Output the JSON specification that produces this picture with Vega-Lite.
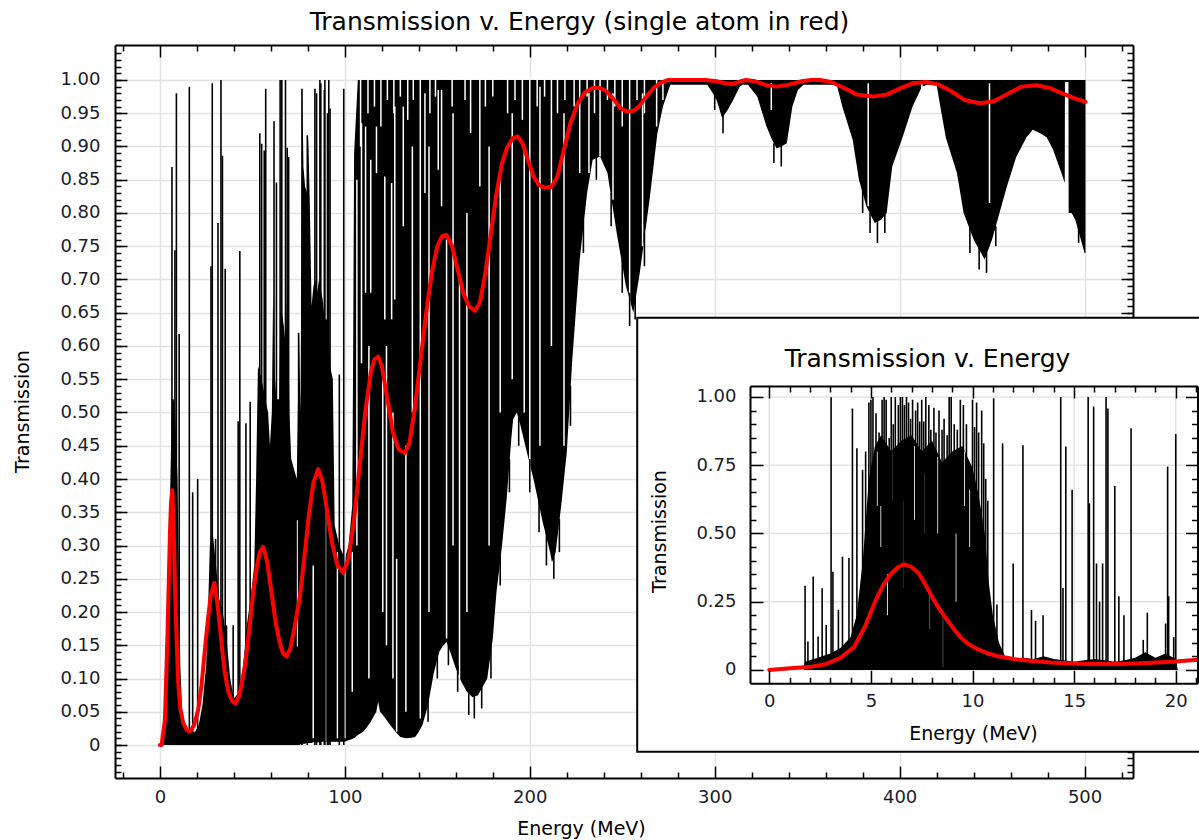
{
  "$schema": "https://vega.github.io/schema/vega-lite/v6.json",
  "width": 1018,
  "height": 733,
  "autosize": {"type": "none"},
  "padding": {"left": 115, "top": 45, "right": 66, "bottom": 62},
  "background": "white",
  "config": {
    "view": {"stroke": null},
    "axis": {
      "grid": false,
      "labelFont": "DejaVu Sans",
      "labelFontSize": 18,
      "labelColor": "#1c1c2a",
      "titleFont": "DejaVu Sans",
      "titleFontSize": 19,
      "titleFontWeight": "normal",
      "titleColor": "#000000",
      "tickColor": "#000000",
      "tickWidth": 1.5,
      "domainColor": "#000000",
      "domainWidth": 2,
      "gridColor": "#e3e3e3",
      "gridWidth": 1.5,
      "labelFlush": false,
      "labelOverlap": false,
      "labelBound": false
    }
  },
  "datasets": {
    "band": [
      {"E":0,"lo":0,"hi":0},{"E":1,"lo":0,"hi":0.01},{"E":2,"lo":0,"hi":0.03},{"E":3,"lo":0,"hi":0.07},
      {"E":4,"lo":0,"hi":0.15},{"E":5,"lo":0,"hi":0.3},{"E":6,"lo":0,"hi":0.45},{"E":6.5,"lo":0,"hi":0.52},
      {"E":7.5,"lo":0,"hi":0.52},{"E":8.5,"lo":0,"hi":0.48},{"E":9.5,"lo":0,"hi":0.4},{"E":10,"lo":0,"hi":0.3},
      {"E":11,"lo":0,"hi":0.12},{"E":12,"lo":0,"hi":0.05},{"E":13,"lo":0,"hi":0.03},{"E":16,"lo":0,"hi":0.02},
      {"E":19,"lo":0,"hi":0.02},{"E":21,"lo":0,"hi":0.03},{"E":23,"lo":0,"hi":0.06},{"E":25,"lo":0,"hi":0.12},
      {"E":26,"lo":0,"hi":0.2},{"E":27,"lo":0,"hi":0.3},{"E":28.5,"lo":0,"hi":0.32},{"E":30,"lo":0,"hi":0.28},
      {"E":32,"lo":0,"hi":0.22},{"E":34,"lo":0,"hi":0.2},{"E":36,"lo":0,"hi":0.16},{"E":38,"lo":0,"hi":0.1},
      {"E":40,"lo":0,"hi":0.07},{"E":43,"lo":0,"hi":0.08},{"E":45,"lo":0,"hi":0.12},{"E":47,"lo":0,"hi":0.18},
      {"E":49,"lo":0,"hi":0.22},{"E":51,"lo":0,"hi":0.27},{"E":52,"lo":0,"hi":0.4},{"E":53,"lo":0,"hi":0.57},
      {"E":55,"lo":0,"hi":0.55},{"E":57,"lo":0,"hi":0.52},{"E":58.5,"lo":0,"hi":0.5},{"E":59.5,"lo":0,"hi":0.45},
      {"E":60.5,"lo":0,"hi":0.5},{"E":61.2,"lo":0,"hi":0.68},{"E":62,"lo":0,"hi":0.56},{"E":63,"lo":0,"hi":0.52},
      {"E":64.5,"lo":0,"hi":0.52},{"E":65.2,"lo":0,"hi":0.65},{"E":66,"lo":0,"hi":0.65},{"E":67,"lo":0,"hi":0.63},
      {"E":68,"lo":0,"hi":0.6},{"E":69,"lo":0,"hi":0.7},{"E":70,"lo":0,"hi":0.5},{"E":71,"lo":0,"hi":0.43},
      {"E":72,"lo":0,"hi":0.42},{"E":74,"lo":0,"hi":0.4},{"E":75.2,"lo":0,"hi":0.62},{"E":76,"lo":0.001,"hi":0.5},
      {"E":77,"lo":0.001,"hi":0.99},{"E":77.6,"lo":0.002,"hi":0.87},{"E":78.5,"lo":0.002,"hi":0.84},{"E":79.5,"lo":0.003,"hi":0.83},
      {"E":80.2,"lo":0.003,"hi":0.915},{"E":81,"lo":0.003,"hi":0.82},{"E":82,"lo":0.003,"hi":0.66},{"E":83,"lo":0.004,"hi":0.69},
      {"E":84,"lo":0.004,"hi":0.7},{"E":85,"lo":0.004,"hi":0.68},{"E":86,"lo":0.004,"hi":0.7},{"E":88,"lo":0.005,"hi":0.67},
      {"E":89,"lo":0.005,"hi":0.64},{"E":91,"lo":0.005,"hi":0.64},{"E":92,"lo":0.005,"hi":0.57},{"E":93.5,"lo":0.005,"hi":0.55},
      {"E":94.5,"lo":0.005,"hi":0.33},{"E":97,"lo":0.005,"hi":0.3},{"E":100,"lo":0.005,"hi":0.28},{"E":102,"lo":0.007,"hi":0.3},{"E":104,"lo":0.009,"hi":0.36},{"E":104.5,"lo":0.01,"hi":0.6},
      {"E":105,"lo":0.01,"hi":0.89},{"E":107,"lo":0.015,"hi":1.0},{"E":110,"lo":0.02,"hi":1.0},{"E":112,"lo":0.027,"hi":1.0},
      {"E":114,"lo":0.035,"hi":1.0},{"E":116,"lo":0.045,"hi":1.0},{"E":117,"lo":0.05,"hi":1.0},{"E":118,"lo":0.065,"hi":1.0},
      {"E":119,"lo":0.05,"hi":1.0},{"E":120,"lo":0.047,"hi":1.0},{"E":122,"lo":0.04,"hi":1.0},{"E":124,"lo":0.032,"hi":1.0},
      {"E":126,"lo":0.025,"hi":1.0},{"E":128,"lo":0.018,"hi":1.0},{"E":130,"lo":0.012,"hi":1.0},{"E":133,"lo":0.01,"hi":1.0},
      {"E":136,"lo":0.011,"hi":1.0},{"E":138,"lo":0.012,"hi":1.0},{"E":140,"lo":0.02,"hi":1.0},{"E":142,"lo":0.03,"hi":1.0},
      {"E":145,"lo":0.06,"hi":1.0},{"E":148,"lo":0.107,"hi":1.0},{"E":151,"lo":0.14,"hi":1.0},{"E":153,"lo":0.149,"hi":1.0},
      {"E":155,"lo":0.155,"hi":1.0},{"E":157,"lo":0.14,"hi":1.0},{"E":160,"lo":0.115,"hi":1.0},{"E":163,"lo":0.095,"hi":1.0},
      {"E":166,"lo":0.08,"hi":1.0},{"E":169,"lo":0.072,"hi":1.0},{"E":172,"lo":0.075,"hi":1.0},{"E":175,"lo":0.09,"hi":1.0},
      {"E":177,"lo":0.1,"hi":1.0},{"E":180,"lo":0.16,"hi":1.0},{"E":182,"lo":0.23,"hi":1.0},{"E":185,"lo":0.3,"hi":1.0},
      {"E":187.5,"lo":0.37,"hi":1.0},{"E":190,"lo":0.46,"hi":1.0},{"E":191,"lo":0.49,"hi":1.0},{"E":193,"lo":0.5,"hi":1.0},
      {"E":195,"lo":0.48,"hi":1.0},{"E":198,"lo":0.445,"hi":1.0},{"E":202,"lo":0.4,"hi":1.0},{"E":207,"lo":0.335,"hi":1.0},
      {"E":211,"lo":0.29,"hi":1.0},{"E":212,"lo":0.275,"hi":1.0},{"E":214,"lo":0.29,"hi":1.0},{"E":217,"lo":0.36,"hi":1.0},
      {"E":220,"lo":0.44,"hi":1.0},{"E":223,"lo":0.58,"hi":1.0},{"E":227,"lo":0.73,"hi":1.0},{"E":231,"lo":0.83,"hi":1.0},
      {"E":234,"lo":0.88,"hi":1.0},{"E":238,"lo":0.885,"hi":1.0},{"E":242,"lo":0.86,"hi":1.0},{"E":247,"lo":0.77,"hi":1.0},
      {"E":252,"lo":0.69,"hi":1.0},{"E":256,"lo":0.65,"hi":1.0},{"E":259.5,"lo":0.71,"hi":1.0},{"E":265,"lo":0.825,"hi":1.0},
      {"E":269,"lo":0.92,"hi":1.0},{"E":272,"lo":0.96,"hi":1.0},{"E":276,"lo":0.993,"hi":1.0},{"E":296,"lo":0.993,"hi":1.0},
      {"E":299,"lo":0.98,"hi":1.0},{"E":301,"lo":0.97,"hi":1.0},{"E":304,"lo":0.943,"hi":1.0},{"E":307,"lo":0.955,"hi":1.0},
      {"E":310,"lo":0.97,"hi":1.0},{"E":313.5,"lo":0.99,"hi":1.0},{"E":315,"lo":0.993,"hi":1.0},{"E":318,"lo":0.993,"hi":1.0},
      {"E":323,"lo":0.975,"hi":1.0},{"E":328,"lo":0.93,"hi":1.0},{"E":331,"lo":0.91,"hi":1.0},{"E":333.5,"lo":0.897,"hi":1.0},
      {"E":336,"lo":0.9,"hi":1.0},{"E":339,"lo":0.905,"hi":1.0},{"E":342,"lo":0.96,"hi":1.0},{"E":345,"lo":0.985,"hi":1.0},
      {"E":348,"lo":0.993,"hi":1.0},{"E":366,"lo":0.993,"hi":1.0},{"E":369,"lo":0.96,"hi":1.0},{"E":374.6,"lo":0.91,"hi":1.0},
      {"E":378,"lo":0.85,"hi":1.0},{"E":382,"lo":0.81,"hi":1.0},{"E":386.5,"lo":0.785,"hi":1.0},{"E":390,"lo":0.79,"hi":1.0},
      {"E":393,"lo":0.8,"hi":1.0},{"E":396,"lo":0.87,"hi":1.0},{"E":401.6,"lo":0.914,"hi":1.0},{"E":407,"lo":0.96,"hi":1.0},
      {"E":412,"lo":0.99,"hi":1.0},{"E":415,"lo":0.993,"hi":1.0},{"E":420,"lo":0.993,"hi":1.0},{"E":422,"lo":0.96,"hi":1.0},
      {"E":425,"lo":0.913,"hi":1.0},{"E":431,"lo":0.86,"hi":1.0},{"E":434.6,"lo":0.8,"hi":1.0},{"E":440,"lo":0.76,"hi":1.0},
      {"E":446,"lo":0.73,"hi":1.0},{"E":450,"lo":0.76,"hi":1.0},{"E":454,"lo":0.8,"hi":1.0},{"E":458,"lo":0.84,"hi":1.0},
      {"E":463,"lo":0.884,"hi":1.0},{"E":468.6,"lo":0.914,"hi":1.0},{"E":472,"lo":0.925,"hi":1.0},{"E":476,"lo":0.92,"hi":1.0},
      {"E":479.5,"lo":0.914,"hi":1.0},{"E":483,"lo":0.895,"hi":1.0},{"E":487.5,"lo":0.86,"hi":1.0},{"E":489.3,"lo":0.845,"hi":1.0},
      {"E":489.4,"lo":0.997,"hi":1.0},{"E":491.3,"lo":0.997,"hi":1.0},{"E":491.4,"lo":0.8,"hi":1.0},{"E":493,"lo":0.8,"hi":1.0},
      {"E":495,"lo":0.79,"hi":1.0},{"E":497,"lo":0.77,"hi":1.0},{"E":499,"lo":0.75,"hi":1.0},{"E":500,"lo":0.74,"hi":1.0},
      {"E":500.5,"lo":0.74,"hi":1.0}
    ],
    "spikes": [
      {"E":6.5,"b":0,"t":0.869},{"E":8.1,"b":0,"t":0.744},{"E":8.9,"b":0,"t":0.98},{"E":10.4,"b":0,"t":0.618},
      {"E":15.9,"b":0,"t":0.99},{"E":17.7,"b":0,"t":0.38},{"E":20.4,"b":0,"t":0.4},{"E":27.6,"b":0,"t":0.72},
      {"E":28.3,"b":0,"t":0.995},{"E":30.1,"b":0,"t":0.31},{"E":31.4,"b":0,"t":0.785},{"E":33,"b":0,"t":1.0},
      {"E":33.8,"b":0,"t":0.886},{"E":35.3,"b":0,"t":0.716},{"E":36,"b":0,"t":0.18},{"E":39.6,"b":0,"t":0.18},
      {"E":42.3,"b":0,"t":0.487},{"E":43.2,"b":0,"t":0.743},{"E":46.5,"b":0,"t":0.484},{"E":48.8,"b":0,"t":0.516},
      {"E":54,"b":0,"t":0.92},{"E":55,"b":0,"t":0.904},{"E":56.4,"b":0,"t":0.894},{"E":57.2,"b":0,"t":0.987},
      {"E":61.7,"b":0,"t":0.938},{"E":63,"b":0,"t":0.846},{"E":65,"b":0,"t":1.0},{"E":65.9,"b":0,"t":1.0},
      {"E":67.9,"b":0,"t":1.0},{"E":68.8,"b":0,"t":0.898},{"E":69.6,"b":0,"t":0.884},{"E":73.3,"b":0,"t":0.342},
      {"E":75,"b":0,"t":0.62},{"E":76.8,"b":0,"t":0.987},{"E":79.7,"b":0,"t":0.917},{"E":83.8,"b":0,"t":0.987},
      {"E":84.7,"b":0,"t":0.98},{"E":86.5,"b":0,"t":1.0},{"E":87,"b":0,"t":0.995},{"E":88.9,"b":0,"t":0.985},
      {"E":89.2,"b":0,"t":1.0},{"E":90.6,"b":0,"t":0.95},{"E":91.3,"b":0,"t":1.0},{"E":92,"b":0,"t":0.957},
      {"E":97,"b":0,"t":0.557},{"E":99.4,"b":0,"t":0.987},
      {"E":145,"b":0.035,"t":0.07},{"E":150,"b":0.1,"t":0.14},{"E":156,"b":0.12,"t":0.16},{"E":161,"b":0.08,"t":0.12},
      {"E":167,"b":0.045,"t":0.09},{"E":170,"b":0.04,"t":0.08},{"E":174,"b":0.055,"t":0.095},{"E":179,"b":0.1,"t":0.15},
      {"E":184,"b":0.24,"t":0.29},{"E":189,"b":0.38,"t":0.43},{"E":194,"b":0.45,"t":0.5},{"E":200,"b":0.38,"t":0.43},
      {"E":205,"b":0.32,"t":0.37},{"E":209,"b":0.27,"t":0.32},{"E":213,"b":0.25,"t":0.29},{"E":216,"b":0.29,"t":0.34},
      {"E":222,"b":0.48,"t":0.54},{"E":229,"b":0.74,"t":0.79},{"E":236,"b":0.85,"t":0.89},{"E":244,"b":0.78,"t":0.83},
      {"E":250,"b":0.68,"t":0.73},{"E":254,"b":0.63,"t":0.68},{"E":257,"b":0.64,"t":0.68},{"E":262,"b":0.72,"t":0.77},
      {"E":300,"b":0.955,"t":0.98},{"E":304.5,"b":0.92,"t":0.95},{"E":332,"b":0.875,"t":0.905},{"E":336,"b":0.87,"t":0.905},
      {"E":380,"b":0.8,"t":0.84},{"E":384,"b":0.77,"t":0.8},{"E":388,"b":0.755,"t":0.79},{"E":392,"b":0.77,"t":0.8},
      {"E":438,"b":0.74,"t":0.78},{"E":443,"b":0.715,"t":0.75},{"E":447,"b":0.71,"t":0.74},{"E":452,"b":0.75,"t":0.78},
      {"E":496.8,"b":0.755,"t":0.78}
    ],
    "gaps": [
      {"E":74.4,"b":0.148,"t":0.338},{"E":82.9,"b":0.01,"t":0.27},{"E":89.6,"b":0.005,"t":0.35},{"E":96,"b":0.01,"t":0.29},
      {"E":100,"b":0.01,"t":0.29},{"E":104,"b":0.08,"t":0.29},{"E":109,"b":0.574,"t":0.935},{"E":111.2,"b":0.68,"t":0.93},
      {"E":114,"b":0.68,"t":0.88},{"E":117.1,"b":0.86,"t":0.93},{"E":121.6,"b":0.64,"t":0.855},{"E":122.5,"b":0.15,"t":0.6},
      {"E":125.3,"b":0.64,"t":0.845},{"E":127,"b":0.67,"t":0.96},{"E":128,"b":0.02,"t":0.28},{"E":131.6,"b":0.78,"t":0.96},
      {"E":140.8,"b":0.04,"t":1.005},{"E":143.3,"b":0.83,"t":0.98},{"E":150.5,"b":0.865,"t":0.985},{"E":152.3,"b":0.81,"t":0.985},
      {"E":155,"b":0.16,"t":0.76},{"E":162,"b":0.1,"t":0.7},{"E":173,"b":0.84,"t":1.005},{"E":184,"b":0.5,"t":0.85},
      {"E":200,"b":0.4,"t":1.005},{"E":211.7,"b":0.6,"t":1.005},{"E":227,"b":0.86,"t":1.005},{"E":238,"b":0.885,"t":1.005},
      {"E":254,"b":0.65,"t":1.005},{"E":268.6,"b":0.93,"t":1.005},{"E":330.6,"b":0.955,"t":0.995},{"E":383,"b":0.81,"t":0.995},
      {"E":412,"b":0.955,"t":0.995},{"E":448.6,"b":0.815,"t":0.995},
      {"E":106.5,"b":0.3,"t":0.85},{"E":113,"b":0.1,"t":0.6},{"E":120.5,"b":0.2,"t":0.55},{"E":126,"b":0.1,"t":0.5},
      {"E":133,"b":0.05,"t":0.45},{"E":136.5,"b":0.5,"t":0.9},{"E":145.5,"b":0.2,"t":0.9},{"E":158.5,"b":0.3,"t":0.95},
      {"E":166,"b":0.2,"t":0.8},{"E":178,"b":0.3,"t":0.9},{"E":190.5,"b":0.55,"t":0.95},{"E":197,"b":0.5,"t":0.9},
      {"E":205.5,"b":0.45,"t":0.99},{"E":218.5,"b":0.45,"t":0.95},{"E":232,"b":0.86,"t":0.98},{"E":245,"b":0.82,"t":0.98},
      {"E":261,"b":0.75,"t":0.98},
      {"E":108.5,"b":0.9,"t":1.005},{"E":112.5,"b":0.95,"t":1.005},{"E":116,"b":0.96,"t":1.005},{"E":119.5,"b":0.93,"t":1.005},
      {"E":123,"b":0.97,"t":1.005},{"E":126.5,"b":0.95,"t":1.005},{"E":130,"b":0.975,"t":1.005},{"E":134,"b":0.94,"t":1.005},
      {"E":137,"b":0.97,"t":1.005},{"E":146,"b":0.95,"t":1.005},{"E":149,"b":0.975,"t":1.005},{"E":158,"b":0.96,"t":1.005},
      {"E":165,"b":0.97,"t":1.005},{"E":168,"b":0.92,"t":1.005},{"E":176,"b":0.96,"t":1.005},{"E":180,"b":0.975,"t":1.005},
      {"E":188,"b":0.95,"t":1.005},{"E":192,"b":0.97,"t":1.005},{"E":196,"b":0.94,"t":1.005},{"E":204,"b":0.96,"t":1.005},
      {"E":208,"b":0.975,"t":1.005},{"E":215,"b":0.95,"t":1.005},{"E":219,"b":0.97,"t":1.005},{"E":224,"b":0.96,"t":1.005},
      {"E":231,"b":0.975,"t":1.005},{"E":235,"b":0.95,"t":1.005},{"E":242,"b":0.97,"t":1.005},{"E":246,"b":0.96,"t":1.005},
      {"E":250,"b":0.93,"t":1.005},{"E":258,"b":0.97,"t":1.005},{"E":262,"b":0.95,"t":1.005},{"E":272,"b":0.97,"t":1.005}
    ],
    "red": [
      {"E":0,"T":0},{"E":0.9,"T":0.0},{"E":2.7,"T":0.038},{"E":4.1,"T":0.168},{"E":5.4,"T":0.318},{"E":6,"T":0.365},
      {"E":6.7,"T":0.383},{"E":7.4,"T":0.33},{"E":8.1,"T":0.243},{"E":9,"T":0.16},{"E":9.9,"T":0.093},{"E":11,"T":0.055},
      {"E":12.6,"T":0.033},{"E":14.5,"T":0.023},{"E":16.2,"T":0.02},{"E":18.5,"T":0.03},{"E":20.7,"T":0.053},{"E":22.5,"T":0.09},
      {"E":24.3,"T":0.143},{"E":26,"T":0.19},{"E":27.5,"T":0.225},{"E":29.4,"T":0.244},{"E":31,"T":0.215},{"E":32.4,"T":0.178},
      {"E":33.8,"T":0.14},{"E":35.1,"T":0.108},{"E":37,"T":0.08},{"E":39,"T":0.066},{"E":40.9,"T":0.062},{"E":43,"T":0.075},
      {"E":45.9,"T":0.118},{"E":48,"T":0.165},{"E":50.4,"T":0.228},{"E":52.5,"T":0.27},{"E":54,"T":0.29},{"E":55.9,"T":0.298},
      {"E":58,"T":0.275},{"E":60.4,"T":0.228},{"E":62.5,"T":0.185},{"E":64.9,"T":0.153},{"E":66.5,"T":0.138},{"E":68.5,"T":0.133},
      {"E":70.5,"T":0.145},{"E":73,"T":0.18},{"E":75.7,"T":0.223},{"E":78,"T":0.28},{"E":80.5,"T":0.345},{"E":83,"T":0.395},
      {"E":85.6,"T":0.415},{"E":88,"T":0.395},{"E":90.5,"T":0.35},{"E":93,"T":0.305},{"E":96,"T":0.27},{"E":99.1,"T":0.259},
      {"E":102,"T":0.28},{"E":105,"T":0.34},{"E":108,"T":0.42},{"E":111,"T":0.5},{"E":114,"T":0.56},{"E":116,"T":0.58},
      {"E":118,"T":0.584},{"E":120,"T":0.57},{"E":123,"T":0.52},{"E":126,"T":0.47},{"E":129,"T":0.445},{"E":132.4,"T":0.439},
      {"E":135,"T":0.455},{"E":138,"T":0.51},{"E":141,"T":0.58},{"E":144,"T":0.65},{"E":147,"T":0.71},{"E":150,"T":0.75},
      {"E":152.5,"T":0.765},{"E":155,"T":0.767},{"E":158,"T":0.75},{"E":161,"T":0.715},{"E":164,"T":0.68},{"E":167,"T":0.66},
      {"E":170.3,"T":0.653},{"E":173,"T":0.665},{"E":176,"T":0.71},{"E":179,"T":0.77},{"E":182,"T":0.83},{"E":185,"T":0.875},
      {"E":188,"T":0.9},{"E":191,"T":0.913},{"E":193.5,"T":0.915},{"E":196,"T":0.905},{"E":199,"T":0.88},{"E":202,"T":0.855},
      {"E":205,"T":0.842},{"E":208,"T":0.838},{"E":211.7,"T":0.839},{"E":215,"T":0.855},{"E":218,"T":0.89},{"E":222,"T":0.935},
      {"E":226,"T":0.965},{"E":230,"T":0.982},{"E":234,"T":0.988},{"E":237.8,"T":0.988},{"E":241,"T":0.984},{"E":245,"T":0.972},
      {"E":249,"T":0.958},{"E":252,"T":0.953},{"E":255.7,"T":0.953},{"E":259,"T":0.96},{"E":263,"T":0.975},{"E":267,"T":0.988},
      {"E":271,"T":0.996},{"E":275,"T":1.0},{"E":285,"T":1.0},{"E":295,"T":1.0},{"E":301,"T":0.998},{"E":306,"T":0.995},
      {"E":310,"T":0.994},{"E":314,"T":0.998},{"E":317,"T":1.0},{"E":322,"T":0.998},{"E":328,"T":0.992},{"E":333.5,"T":0.99},
      {"E":340,"T":0.993},{"E":347,"T":0.998},{"E":352,"T":1.0},{"E":357,"T":1.0},{"E":363,"T":0.997},{"E":370,"T":0.988},
      {"E":377,"T":0.978},{"E":385.4,"T":0.975},{"E":393,"T":0.978},{"E":400,"T":0.987},{"E":407,"T":0.995},{"E":414.6,"T":0.997},
      {"E":421,"T":0.993},{"E":428,"T":0.983},{"E":435,"T":0.97},{"E":443,"T":0.965},{"E":451,"T":0.968},{"E":459,"T":0.98},
      {"E":466,"T":0.99},{"E":474,"T":0.992},{"E":481,"T":0.988},{"E":488,"T":0.98},{"E":494,"T":0.973},{"E":500.5,"T":0.967}
    ],
    "iband": [
      {"E":1.7,"hi":0},{"E":1.75,"hi":0.03},{"E":2.2,"hi":0.04},{"E":2.6,"hi":0.05},{"E":3,"hi":0.06},{"E":3.5,"hi":0.08},
      {"E":4,"hi":0.12},{"E":4.3,"hi":0.2},{"E":4.6,"hi":0.4},{"E":4.9,"hi":0.7},{"E":5.2,"hi":0.82},{"E":5.5,"hi":0.86},
      {"E":6,"hi":0.8},{"E":6.5,"hi":0.84},{"E":7,"hi":0.86},{"E":7.5,"hi":0.8},{"E":8,"hi":0.84},{"E":8.5,"hi":0.76},
      {"E":9,"hi":0.8},{"E":9.5,"hi":0.82},{"E":10,"hi":0.74},{"E":10.3,"hi":0.64},{"E":10.6,"hi":0.5},{"E":10.8,"hi":0.32},
      {"E":11,"hi":0.2},{"E":11.3,"hi":0.1},{"E":11.6,"hi":0.05},{"E":12,"hi":0.04},{"E":12.5,"hi":0.045},{"E":13,"hi":0.04},
      {"E":13.5,"hi":0.05},{"E":14,"hi":0.04},{"E":14.5,"hi":0.035},{"E":15,"hi":0.03},{"E":15.5,"hi":0.035},{"E":16,"hi":0.04},
      {"E":16.5,"hi":0.035},{"E":17,"hi":0.03},{"E":17.5,"hi":0.035},{"E":18,"hi":0.045},{"E":18.5,"hi":0.065},{"E":19,"hi":0.045},
      {"E":19.5,"hi":0.06},{"E":20,"hi":0.04},{"E":20.1,"hi":0}
    ],
    "ispikes": [
      {"E":1.76,"b":0,"t":0.308},{"E":1.9,"b":0,"t":0.104},{"E":2.16,"b":0,"t":0.342},{"E":2.4,"b":0,"t":0.122},
      {"E":2.6,"b":0,"t":0.299},{"E":2.8,"b":0,"t":0.165},{"E":3.04,"b":0,"t":0.999},{"E":3.13,"b":0,"t":0.36},
      {"E":3.4,"b":0,"t":0.22},{"E":3.6,"b":0,"t":0.415},{"E":3.92,"b":0,"t":0.41},{"E":4.09,"b":0,"t":0.958},
      {"E":4.31,"b":0,"t":0.812},{"E":4.59,"b":0,"t":0.733},{"E":4.74,"b":0,"t":0.8},{"E":4.9,"b":0,"t":0.98},
      {"E":5,"b":0,"t":0.99},{"E":5.1,"b":0,"t":1.0},{"E":5.25,"b":0,"t":0.94},{"E":5.4,"b":0,"t":0.87},
      {"E":5.55,"b":0,"t":0.99},{"E":5.65,"b":0,"t":1.0},{"E":5.75,"b":0,"t":0.99},{"E":5.9,"b":0,"t":0.85},
      {"E":6,"b":0,"t":1.0},{"E":6.1,"b":0,"t":0.9},{"E":6.2,"b":0,"t":1.0},{"E":6.35,"b":0,"t":0.97},
      {"E":6.45,"b":0,"t":1.0},{"E":6.55,"b":0,"t":1.0},{"E":6.65,"b":0,"t":0.97},{"E":6.75,"b":0,"t":1.0},
      {"E":6.85,"b":0,"t":0.98},{"E":6.95,"b":0,"t":0.92},{"E":7.05,"b":0,"t":0.99},{"E":7.2,"b":0,"t":0.95},
      {"E":7.3,"b":0,"t":0.98},{"E":7.4,"b":0,"t":0.91},{"E":7.5,"b":0,"t":0.99},{"E":7.6,"b":0,"t":0.91},
      {"E":7.7,"b":0,"t":1.0},{"E":7.85,"b":0,"t":0.97},{"E":7.95,"b":0,"t":0.88},{"E":8.1,"b":0,"t":0.96},
      {"E":8.2,"b":0,"t":0.87},{"E":8.35,"b":0,"t":0.95},{"E":8.5,"b":0,"t":0.88},{"E":8.6,"b":0,"t":0.92},
      {"E":8.75,"b":0,"t":0.86},{"E":8.85,"b":0,"t":1.0},{"E":8.95,"b":0,"t":1.0},{"E":9.1,"b":0,"t":0.9},
      {"E":9.25,"b":0,"t":0.88},{"E":9.4,"b":0,"t":0.99},{"E":9.55,"b":0,"t":0.97},{"E":9.7,"b":0,"t":0.9},
      {"E":9.8,"b":0,"t":0.76},{"E":10,"b":0,"t":0.99},{"E":10.1,"b":0,"t":0.89},{"E":10.2,"b":0,"t":0.98},
      {"E":10.3,"b":0,"t":0.87},{"E":10.45,"b":0,"t":0.95},{"E":10.55,"b":0,"t":0.83},{"E":10.65,"b":0,"t":0.7},
      {"E":10.75,"b":0,"t":0.62},{"E":11.04,"b":0,"t":0.995},{"E":11.2,"b":0,"t":0.24},{"E":11.48,"b":0,"t":0.83},
      {"E":12,"b":0,"t":0.39},{"E":12.48,"b":0,"t":0.823},{"E":12.9,"b":0,"t":0.22},{"E":13.1,"b":0,"t":0.18},
      {"E":13.47,"b":0,"t":0.2},{"E":14.34,"b":0,"t":1.0},{"E":14.45,"b":0,"t":0.3},{"E":14.59,"b":0,"t":0.818},
      {"E":14.9,"b":0,"t":0.66},{"E":15.69,"b":0,"t":1.0},{"E":15.75,"b":0,"t":0.61},{"E":15.96,"b":0,"t":0.965},
      {"E":16.1,"b":0,"t":0.39},{"E":16.25,"b":0,"t":0.25},{"E":16.4,"b":0,"t":0.39},{"E":16.57,"b":0,"t":1.0},
      {"E":16.66,"b":0,"t":0.958},{"E":17,"b":0,"t":0.674},{"E":17.2,"b":0,"t":0.27},{"E":17.45,"b":0,"t":0.2},
      {"E":17.8,"b":0,"t":0.885},{"E":18.4,"b":0,"t":0.11},{"E":18.6,"b":0,"t":0.21},{"E":19.5,"b":0,"t":0.17},
      {"E":19.6,"b":0,"t":0.745},{"E":19.65,"b":0,"t":0.27},{"E":19.9,"b":0,"t":0.12},{"E":20,"b":0,"t":0.864}
    ],
    "igaps": [
      {"E":5.5,"b":0.45,"t":0.6},{"E":5.8,"b":0.2,"t":0.35},{"E":6.1,"b":0.62,"t":0.8},{"E":6.56,"b":0.3,"t":0.62},
      {"E":7.6,"b":0.5,"t":0.72},{"E":7.9,"b":0.15,"t":0.3},{"E":8.54,"b":0.01,"t":0.21},{"E":9.2,"b":0.25,"t":0.5},
      {"E":9.85,"b":0.45,"t":0.66},{"E":5.3,"b":0.6,"t":0.8},{"E":7.15,"b":0.55,"t":0.82},{"E":8.3,"b":0.5,"t":0.78},{"E":9.6,"b":0.6,"t":0.8}
    ],
    "ired": [
      {"E":0,"T":0},{"E":1.02,"T":0.006},{"E":2.07,"T":0.012},{"E":2.8,"T":0.022},{"E":3.48,"T":0.043},{"E":4.18,"T":0.085},
      {"E":4.71,"T":0.159},{"E":5.24,"T":0.256},{"E":5.6,"T":0.31},{"E":5.94,"T":0.348},{"E":6.3,"T":0.375},{"E":6.64,"T":0.387},
      {"E":7,"T":0.377},{"E":7.35,"T":0.354},{"E":7.7,"T":0.31},{"E":8.05,"T":0.262},{"E":8.4,"T":0.22},{"E":8.75,"T":0.183},
      {"E":9.1,"T":0.148},{"E":9.45,"T":0.116},{"E":9.8,"T":0.095},{"E":10.16,"T":0.079},{"E":10.7,"T":0.062},{"E":11.2,"T":0.051},
      {"E":12.27,"T":0.037},{"E":13.85,"T":0.027},{"E":15.6,"T":0.022},{"E":17.4,"T":0.022},{"E":19.1,"T":0.027},{"E":20,"T":0.031},
      {"E":21.07,"T":0.037}
    ],
    "one": [{}]
  },
  "layer": [
    {
      "layer": [
        {
          "data": {"name": "band"},
          "mark": {"type": "area", "color": "#000000"},
          "encoding": {
            "x": {"field": "E", "type": "quantitative", "scale": {"domain": [-24.3, 526.2], "nice": false, "zero": false},
              "axis": {"orient": "bottom", "values": [0,100,200,300,400,500], "format": "d", "tickSize": -12, "grid": true,
                "labelPadding": 31, "labelBaseline": "middle", "title": "Energy (MeV)", "titleX": 466, "titleY": 50,
                "titleBaseline": "middle", "titleAlign": "center"}},
            "y": {"field": "lo", "type": "quantitative", "scale": {"domain": [-0.0496, 1.0526], "nice": false, "zero": false},
              "axis": {"orient": "left", "values": [0,0.05,0.1,0.15,0.2,0.25,0.3,0.35,0.4,0.45,0.5,0.55,0.6,0.65,0.7,0.75,0.8,0.85,0.9,0.95,1],
                "labelExpr": "datum.value == 0 ? '0' : format(datum.value, '.2f')", "tickSize": -12, "grid": true,
                "labelPadding": 27, "title": "Transmission", "titleX": -93, "titleY": 366, "titleAngle": 270,
                "titleBaseline": "middle", "titleAlign": "center"}},
            "y2": {"field": "hi"}
          }
        },
        {
          "data": {"name": "gaps"},
          "mark": {"type": "rule", "color": "#ffffff", "strokeWidth": 1.5},
          "encoding": {
            "x": {"field": "E", "type": "quantitative", "scale": {"domain": [-24.3, 526.2], "nice": false, "zero": false},
              "axis": {"orient": "bottom", "values": [-20,20,40,60,80,120,140,160,180,220,240,260,280,320,340,360,380,420,440,460,480,520],
                "tickSize": -6, "labels": false, "domain": false, "grid": false, "title": null}},
            "y": {"field": "b", "type": "quantitative", "scale": {"domain": [-0.0496, 1.0526], "nice": false, "zero": false},
              "axis": {"orient": "left", "values": [-0.04,-0.03,-0.02,-0.01,0,0.01,0.02,0.03,0.04,0.05,0.06,0.07,0.08,0.09,0.1,0.11,0.12,0.13,0.14,0.15,0.16,0.17,0.18,0.19,0.2,0.21,0.22,0.23,0.24,0.25,0.26,0.27,0.28,0.29,0.3,0.31,0.32,0.33,0.34,0.35,0.36,0.37,0.38,0.39,0.4,0.41,0.42,0.43,0.44,0.45,0.46,0.47,0.48,0.49,0.5,0.51,0.52,0.53,0.54,0.55,0.56,0.57,0.58,0.59,0.6,0.61,0.62,0.63,0.64,0.65,0.66,0.67,0.68,0.69,0.7,0.71,0.72,0.73,0.74,0.75,0.76,0.77,0.78,0.79,0.8,0.81,0.82,0.83,0.84,0.85,0.86,0.87,0.88,0.89,0.9,0.91,0.92,0.93,0.94,0.95,0.96,0.97,0.98,0.99,1,1.01,1.02,1.03,1.04],
                "tickSize": -6, "labels": false, "domain": false, "grid": false, "title": null}},
            "y2": {"field": "t"}
          }
        },
        {
          "data": {"name": "spikes"},
          "mark": {"type": "rule", "color": "#000000", "strokeWidth": 1.6},
          "encoding": {
            "x": {"field": "E", "type": "quantitative", "scale": {"domain": [-24.3, 526.2], "nice": false, "zero": false},
              "axis": {"orient": "top", "values": [0,100,200,300,400,500], "tickSize": -12, "labels": false, "grid": false,
                "title": "Transmission v. Energy (single atom in red)", "titleFontSize": 25, "titleX": 464, "titleY": -16,
                "titleBaseline": "alphabetic", "titleAlign": "center"}},
            "y": {"field": "b", "type": "quantitative", "scale": {"domain": [-0.0496, 1.0526], "nice": false, "zero": false},
              "axis": {"orient": "right", "values": [0,0.05,0.1,0.15,0.2,0.25,0.3,0.35,0.4,0.45,0.5,0.55,0.6,0.65,0.7,0.75,0.8,0.85,0.9,0.95,1],
                "tickSize": -12, "labels": false, "grid": false, "title": null}},
            "y2": {"field": "t"}
          }
        },
        {
          "data": {"name": "red"},
          "mark": {"type": "line", "color": "#ff0000", "strokeWidth": 4, "strokeJoin": "round", "strokeCap": "round"},
          "encoding": {
            "x": {"field": "E", "type": "quantitative", "scale": {"domain": [-24.3, 526.2], "nice": false, "zero": false},
              "axis": {"orient": "top", "values": [-20,20,40,60,80,120,140,160,180,220,240,260,280,320,340,360,380,420,440,460,480,520],
                "tickSize": -6, "labels": false, "domain": false, "grid": false, "title": null}},
            "y": {"field": "T", "type": "quantitative", "scale": {"domain": [-0.0496, 1.0526], "nice": false, "zero": false},
              "axis": {"orient": "right", "values": [-0.04,-0.03,-0.02,-0.01,0,0.01,0.02,0.03,0.04,0.05,0.06,0.07,0.08,0.09,0.1,0.11,0.12,0.13,0.14,0.15,0.16,0.17,0.18,0.19,0.2,0.21,0.22,0.23,0.24,0.25,0.26,0.27,0.28,0.29,0.3,0.31,0.32,0.33,0.34,0.35,0.36,0.37,0.38,0.39,0.4,0.41,0.42,0.43,0.44,0.45,0.46,0.47,0.48,0.49,0.5,0.51,0.52,0.53,0.54,0.55,0.56,0.57,0.58,0.59,0.6,0.61,0.62,0.63,0.64,0.65,0.66,0.67,0.68,0.69,0.7,0.71,0.72,0.73,0.74,0.75,0.76,0.77,0.78,0.79,0.8,0.81,0.82,0.83,0.84,0.85,0.86,0.87,0.88,0.89,0.9,0.91,0.92,0.93,0.94,0.95,0.96,0.97,0.98,0.99,1,1.01,1.02,1.03,1.04],
                "tickSize": -6, "labels": false, "domain": false, "grid": false, "title": null}}
          }
        }
      ],
      "resolve": {"axis": {"x": "independent", "y": "independent"}}
    },
    {
      "layer": [
        {
          "data": {"name": "one"},
          "mark": {"type": "rect", "fill": "#ffffff", "stroke": "#000000", "strokeWidth": 2},
          "encoding": {
            "x": {"datum": -6.5, "type": "quantitative", "scale": {"domain": [-0.95, 21.07], "range": [635, 1082.5], "nice": false, "zero": false}, "axis": null},
            "x2": {"datum": 21.6},
            "y": {"datum": 1.29, "type": "quantitative", "scale": {"domain": [-0.049, 1.04], "range": [638.3, 341], "nice": false, "zero": false}, "axis": null},
            "y2": {"datum": -0.3}
          }
        },
        {"data": {"name": "one"}, "mark": {"type": "rule", "color": "#e3e3e3", "strokeWidth": 1.5},
         "encoding": {"x": {"datum": 0, "type": "quantitative", "scale": {"domain": [-0.95, 21.07], "range": [635, 1082.5], "nice": false, "zero": false}, "axis": null},
           "y": {"datum": -0.049, "type": "quantitative", "scale": {"domain": [-0.049, 1.04], "range": [638.3, 341], "nice": false, "zero": false}, "axis": null}, "y2": {"datum": 1.04}}},
        {"data": {"name": "one"}, "mark": {"type": "rule", "color": "#e3e3e3", "strokeWidth": 1.5},
         "encoding": {"x": {"datum": 5, "type": "quantitative", "scale": {"domain": [-0.95, 21.07], "range": [635, 1082.5], "nice": false, "zero": false}, "axis": null},
           "y": {"datum": -0.049, "type": "quantitative", "scale": {"domain": [-0.049, 1.04], "range": [638.3, 341], "nice": false, "zero": false}, "axis": null}, "y2": {"datum": 1.04}}},
        {"data": {"name": "one"}, "mark": {"type": "rule", "color": "#e3e3e3", "strokeWidth": 1.5},
         "encoding": {"x": {"datum": 10, "type": "quantitative", "scale": {"domain": [-0.95, 21.07], "range": [635, 1082.5], "nice": false, "zero": false}, "axis": null},
           "y": {"datum": -0.049, "type": "quantitative", "scale": {"domain": [-0.049, 1.04], "range": [638.3, 341], "nice": false, "zero": false}, "axis": null}, "y2": {"datum": 1.04}}},
        {"data": {"name": "one"}, "mark": {"type": "rule", "color": "#e3e3e3", "strokeWidth": 1.5},
         "encoding": {"x": {"datum": 15, "type": "quantitative", "scale": {"domain": [-0.95, 21.07], "range": [635, 1082.5], "nice": false, "zero": false}, "axis": null},
           "y": {"datum": -0.049, "type": "quantitative", "scale": {"domain": [-0.049, 1.04], "range": [638.3, 341], "nice": false, "zero": false}, "axis": null}, "y2": {"datum": 1.04}}},
        {"data": {"name": "one"}, "mark": {"type": "rule", "color": "#e3e3e3", "strokeWidth": 1.5},
         "encoding": {"x": {"datum": 20, "type": "quantitative", "scale": {"domain": [-0.95, 21.07], "range": [635, 1082.5], "nice": false, "zero": false}, "axis": null},
           "y": {"datum": -0.049, "type": "quantitative", "scale": {"domain": [-0.049, 1.04], "range": [638.3, 341], "nice": false, "zero": false}, "axis": null}, "y2": {"datum": 1.04}}},
        {"data": {"name": "one"}, "mark": {"type": "rule", "color": "#e3e3e3", "strokeWidth": 1.5},
         "encoding": {"x": {"datum": -0.95, "type": "quantitative", "scale": {"domain": [-0.95, 21.07], "range": [635, 1082.5], "nice": false, "zero": false}, "axis": null}, "x2": {"datum": 21.07},
           "y": {"datum": 0, "type": "quantitative", "scale": {"domain": [-0.049, 1.04], "range": [638.3, 341], "nice": false, "zero": false}, "axis": null}}},
        {"data": {"name": "one"}, "mark": {"type": "rule", "color": "#e3e3e3", "strokeWidth": 1.5},
         "encoding": {"x": {"datum": -0.95, "type": "quantitative", "scale": {"domain": [-0.95, 21.07], "range": [635, 1082.5], "nice": false, "zero": false}, "axis": null}, "x2": {"datum": 21.07},
           "y": {"datum": 0.25, "type": "quantitative", "scale": {"domain": [-0.049, 1.04], "range": [638.3, 341], "nice": false, "zero": false}, "axis": null}}},
        {"data": {"name": "one"}, "mark": {"type": "rule", "color": "#e3e3e3", "strokeWidth": 1.5},
         "encoding": {"x": {"datum": -0.95, "type": "quantitative", "scale": {"domain": [-0.95, 21.07], "range": [635, 1082.5], "nice": false, "zero": false}, "axis": null}, "x2": {"datum": 21.07},
           "y": {"datum": 0.5, "type": "quantitative", "scale": {"domain": [-0.049, 1.04], "range": [638.3, 341], "nice": false, "zero": false}, "axis": null}}},
        {"data": {"name": "one"}, "mark": {"type": "rule", "color": "#e3e3e3", "strokeWidth": 1.5},
         "encoding": {"x": {"datum": -0.95, "type": "quantitative", "scale": {"domain": [-0.95, 21.07], "range": [635, 1082.5], "nice": false, "zero": false}, "axis": null}, "x2": {"datum": 21.07},
           "y": {"datum": 0.75, "type": "quantitative", "scale": {"domain": [-0.049, 1.04], "range": [638.3, 341], "nice": false, "zero": false}, "axis": null}}},
        {"data": {"name": "one"}, "mark": {"type": "rule", "color": "#e3e3e3", "strokeWidth": 1.5},
         "encoding": {"x": {"datum": -0.95, "type": "quantitative", "scale": {"domain": [-0.95, 21.07], "range": [635, 1082.5], "nice": false, "zero": false}, "axis": null}, "x2": {"datum": 21.07},
           "y": {"datum": 1, "type": "quantitative", "scale": {"domain": [-0.049, 1.04], "range": [638.3, 341], "nice": false, "zero": false}, "axis": null}}},
        {
          "data": {"name": "iband"},
          "mark": {"type": "area", "color": "#000000"},
          "encoding": {
            "x": {"field": "E", "type": "quantitative", "scale": {"domain": [-0.95, 21.07], "range": [635, 1082.5], "nice": false, "zero": false},
              "axis": {"orient": "bottom", "offset": -94.7, "zindex": 1, "values": [0,5,10,15,20], "format": "d", "tickSize": -13,
                "labelPadding": 31, "labelBaseline": "middle", "grid": false, "title": "Energy (MeV)", "titleX": 858, "titleY": 50,
                "titleBaseline": "middle", "titleAlign": "center"}},
            "y": {"field": "hi", "type": "quantitative", "scale": {"domain": [-0.049, 1.04], "range": [638.3, 341], "nice": false, "zero": false},
              "axis": {"orient": "left", "offset": -635, "zindex": 1, "values": [0,0.25,0.5,0.75,1],
                "labelExpr": "datum.value == 0 ? '0' : format(datum.value, '.2f')", "tickSize": -13, "labelPadding": 27, "grid": false,
                "title": "Transmission", "titleX": -91, "titleY": 486, "titleAngle": 270, "titleBaseline": "middle", "titleAlign": "center"}},
            "y2": {"datum": 0}
          }
        },
        {
          "data": {"name": "igaps"},
          "mark": {"type": "rule", "color": "#ffffff", "strokeWidth": 1.3},
          "encoding": {
            "x": {"field": "E", "type": "quantitative", "scale": {"domain": [-0.95, 21.07], "range": [635, 1082.5], "nice": false, "zero": false},
              "axis": {"orient": "bottom", "offset": -94.7, "zindex": 1, "values": [1,2,3,4,6,7,8,9,11,12,13,14,16,17,18,19,21],
                "tickSize": -6, "labels": false, "domain": false, "grid": false, "title": null}},
            "y": {"field": "b", "type": "quantitative", "scale": {"domain": [-0.049, 1.04], "range": [638.3, 341], "nice": false, "zero": false},
              "axis": {"orient": "left", "offset": -635, "zindex": 1, "values": [0.05,0.1,0.15,0.2,0.3,0.35,0.4,0.45,0.55,0.6,0.65,0.7,0.8,0.85,0.9,0.95],
                "tickSize": -6, "labels": false, "domain": false, "grid": false, "title": null}},
            "y2": {"field": "t"}
          }
        },
        {
          "data": {"name": "ispikes"},
          "mark": {"type": "rule", "color": "#000000", "strokeWidth": 1.6},
          "encoding": {
            "x": {"field": "E", "type": "quantitative", "scale": {"domain": [-0.95, 21.07], "range": [635, 1082.5], "nice": false, "zero": false},
              "axis": {"orient": "top", "offset": -341, "zindex": 1, "values": [0,5,10,15,20], "tickSize": -12, "labels": false, "grid": false,
                "title": "Transmission v. Energy", "titleFontSize": 25, "titleX": 812, "titleY": -20, "titleBaseline": "alphabetic", "titleAlign": "center"}},
            "y": {"field": "b", "type": "quantitative", "scale": {"domain": [-0.049, 1.04], "range": [638.3, 341], "nice": false, "zero": false},
              "axis": {"orient": "right", "offset": 64.5, "zindex": 1, "values": [0,0.25,0.5,0.75,1], "tickSize": -12, "labels": false, "grid": false, "title": null}},
            "y2": {"field": "t"}
          }
        },
        {
          "data": {"name": "ired"},
          "mark": {"type": "line", "color": "#ff0000", "strokeWidth": 4, "strokeJoin": "round", "strokeCap": "round"},
          "encoding": {
            "x": {"field": "E", "type": "quantitative", "scale": {"domain": [-0.95, 21.07], "range": [635, 1082.5], "nice": false, "zero": false},
              "axis": {"orient": "top", "offset": -341, "zindex": 1, "values": [1,2,3,4,6,7,8,9,11,12,13,14,16,17,18,19,21],
                "tickSize": -6, "labels": false, "domain": false, "grid": false, "title": null}},
            "y": {"field": "T", "type": "quantitative", "scale": {"domain": [-0.049, 1.04], "range": [638.3, 341], "nice": false, "zero": false},
              "axis": {"orient": "right", "offset": 64.5, "zindex": 1, "values": [0.05,0.1,0.15,0.2,0.3,0.35,0.4,0.45,0.55,0.6,0.65,0.7,0.8,0.85,0.9,0.95],
                "tickSize": -6, "labels": false, "domain": false, "grid": false, "title": null}}
          }
        }
      ],
      "resolve": {"axis": {"x": "independent", "y": "independent"}}
    }
  ],
  "resolve": {"scale": {"x": "independent", "y": "independent"}, "axis": {"x": "independent", "y": "independent"}}
}
